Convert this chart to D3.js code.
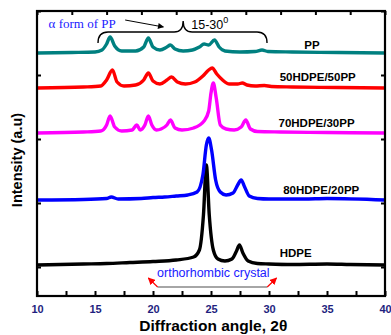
<!DOCTYPE html>
<html>
<head>
<meta charset="utf-8">
<script src="https://cdn.jsdelivr.net/npm/d3@7"></script>
<style>
  body { margin: 0; background: #fff; }
  svg { display: block; font-family: Arial, "Liberation Sans", sans-serif; }
</style>
</head>
<body>
<svg width="391" height="335"></svg>
<script>
// Series names, colours and vertical offsets (stacked patterns)
const names = ['HDPE', '80HDPE/20PP', '70HDPE/30PP', '50HDPE/50PP', 'PP'];
const colors = ['#000000', '#0000ff', '#ff00ff', '#ff0000', '#008080'];
const offsets = [31, 96, 163, 208, 243];

// [2theta, intensity above own baseline]
const hdpe = [[10, 0], [12, 0.5], [14, 1], [16, 1.5], [18, 2.5], [20, 3.5], [22, 5], [23.5, 8], [24, 15],
  [24.35, 50], [24.6, 100], [24.85, 50], [25.2, 15], [25.6, 6], [26.2, 4], [26.8, 6], [27.2, 14],
  [27.45, 20], [27.75, 12], [28.2, 4], [29, 1.5], [30, 1], [32, 0.5], [35, 1], [37, 0.5], [40, 0]];
const hdpe80 = [[10, 0], [14, 0.5], [16, 1.5], [16.4, 3], [17, 1], [19, 1.5], [20, 2.5], [21, 3], [22, 4],
  [23, 5], [23.8, 8], [24.3, 25], [24.6, 55], [24.8, 62], [25.05, 50], [25.4, 20], [25.8, 8], [26.3, 5],
  [26.9, 7], [27.3, 15], [27.6, 20], [27.9, 13], [28.3, 4], [29, 1.5], [30, 1], [33, 1], [35, 1.5], [40, 0]];
const hdpe70 = [[10, 0], [14, 1], [15.5, 2], [16, 8], [16.3, 17], [16.7, 6], [17.3, 2], [18.2, 3], [18.6, 8],
  [18.9, 3], [19.3, 8], [19.6, 17], [19.9, 8], [20.3, 3], [20.7, 4], [21.2, 8], [21.5, 13], [21.9, 5],
  [22.5, 3], [23.5, 5], [24.4, 12], [24.8, 22], [25, 40], [25.2, 50], [25.45, 35], [25.8, 8], [26.3, 4],
  [27, 3], [27.6, 6], [28, 13], [28.4, 4], [29, 1.5], [31, 1], [35, 0.5], [40, 0]];
const hdpe50 = [[10, 0], [14, 1], [15.5, 2], [16, 8], [16.5, 18], [16.9, 6], [17.5, 2], [18.5, 3], [19.2, 8],
  [19.6, 15], [20, 7], [20.6, 4], [21.2, 8], [21.6, 11], [22.1, 6], [22.8, 4], [23.6, 6], [24.3, 12],
  [24.8, 18], [25.1, 20], [25.5, 14], [26, 8], [26.6, 4], [27.3, 4], [27.7, 5], [28.1, 3], [28.8, 2],
  [29.6, 2.5], [30.2, 1.5], [32, 1], [36, 0.5], [40, 0]];
const pp = [[10, 0], [13, 0.5], [15, 1], [15.6, 3], [16, 9], [16.3, 16], [16.7, 7], [17.3, 2], [18.5, 2],
  [19.2, 6], [19.6, 15], [20, 6], [20.6, 3], [21.2, 6], [21.5, 8], [21.9, 4], [22.6, 2], [23.4, 3],
  [24, 6], [24.4, 9], [24.8, 8], [25.3, 13], [25.7, 6], [26.2, 2], [27.5, 1], [28.8, 1.5], [29.4, 3],
  [29.9, 1.5], [32, 1], [36, 0.5], [40, 0]];
const patterns = [hdpe, hdpe80, hdpe70, hdpe50, pp];

const xMinor = d3.range(10, 40.1, 2.5);
const xTopTicks = d3.range(10, 40.1, 3);
const yTicks = [29, 93, 157, 221, 285];

// Label placement (2theta, intensity)
const labelPos = [[32.3, 39], [34.5, 102], [34.1, 169], [34.2, 215], [33.7, 247]];

const svg = d3.select('svg');
const margin = {top: 11, right: 6, bottom: 39, left: 37};
const width = +svg.attr('width') - margin.left - margin.right;
const height = +svg.attr('height') - margin.top - margin.bottom;
const g = svg.append('g').attr('transform', `translate(${margin.left},${margin.top})`);

const x = d3.scaleLinear().domain([10, 40]).range([0, width]);
const y = d3.scaleLinear().domain([0, 285]).range([height, 0]);

const line = d3.line()
  .x(d => x(d[0]))
  .y(d => y(d[1]))
  .curve(d3.curveMonotoneX);

// Patterns
patterns.forEach((p, i) => {
  g.append('path')
    .attr('d', line(p.map(d => [d[0], d[1] + offsets[i]])))
    .attr('fill', 'none')
    .attr('stroke', colors[i])
    .attr('stroke-width', 3.4)
    .attr('stroke-linejoin', 'round');
});

// Pattern labels
names.forEach((n, i) => {
  g.append('text')
    .attr('x', x(labelPos[i][0]))
    .attr('y', y(labelPos[i][1]))
    .attr('text-anchor', 'middle')
    .attr('font-size', 11.5)
    .attr('font-weight', 'bold')
    .text(n);
});

// Axes
const tickColor = '#1f1f80';
const axBottom = g.append('g').attr('transform', `translate(0,${height})`)
  .call(d3.axisBottom(x).tickValues(xMinor).tickSize(-5).tickPadding(9)
    .tickFormat(d => (d % 5 === 0 ? d : '')));
const axTop = g.append('g')
  .call(d3.axisTop(x).tickValues(xTopTicks).tickSize(-4).tickFormat(''));
const axLeft = g.append('g')
  .call(d3.axisLeft(y).tickValues(yTicks).tickSize(-4).tickFormat(''));
const axRight = g.append('g').attr('transform', `translate(${width},0)`)
  .call(d3.axisRight(y).tickValues(yTicks).tickSize(-4).tickFormat(''));

[axBottom, axTop, axLeft, axRight].forEach(a => {
  a.select('.domain').remove();
  a.selectAll('.tick line').attr('stroke', '#000').attr('stroke-width', 2);
});
axBottom.selectAll('.tick text')
  .attr('fill', tickColor)
  .attr('font-size', 11)
  .attr('font-weight', 'bold')
  .attr('font-family', 'Arial, "Liberation Sans", sans-serif');

g.append('rect')
  .attr('width', width)
  .attr('height', height)
  .attr('fill', 'none')
  .attr('stroke', '#000')
  .attr('stroke-width', 2.2);

// Axis titles
svg.append('text')
  .attr('x', margin.left + x(25.2))
  .attr('y', 331)
  .attr('text-anchor', 'middle')
  .attr('font-size', 15.5)
  .attr('font-weight', 'bold')
  .text('Diffraction angle, 2θ');

svg.append('text')
  .attr('transform', `translate(22,${160}) rotate(-90)`)
  .attr('text-anchor', 'middle')
  .attr('font-size', 14.5)
  .attr('font-weight', 'bold')
  .text('Intensity (a.u)');

// Annotations: alpha form of PP, brace and arrow
g.append('text')
  .attr('x', x(11))
  .attr('y', y(268))
  .attr('fill', '#2020ff')
  .attr('font-family', '"Liberation Serif", "Times New Roman", serif')
  .attr('font-size', 13)
  .text('α  form of PP');

const defs = svg.append('defs');
defs.append('marker')
  .attr('id', 'ah')
  .attr('viewBox', '0 0 10 10')
  .attr('refX', 9).attr('refY', 5)
  .attr('markerWidth', 7).attr('markerHeight', 6)
  .attr('orient', 'auto')
  .append('path').attr('d', 'M0,0L10,5L0,10z').attr('fill', '#000');
defs.append('marker')
  .attr('id', 'ahr')
  .attr('viewBox', '0 0 10 10')
  .attr('refX', 9).attr('refY', 5)
  .attr('markerWidth', 6).attr('markerHeight', 6)
  .attr('orient', 'auto')
  .append('path').attr('d', 'M0,0L10,5L0,10z').attr('fill', '#ff0000');

g.append('line')
  .attr('x1', x(17.6)).attr('y1', y(276))
  .attr('x2', x(20.9)).attr('y2', y(269))
  .attr('stroke', '#000').attr('stroke-width', 1)
  .attr('marker-end', 'url(#ah)');

// curly brace from 15.26 to 29.83, cusp at 22.6
const bx0 = x(15.26), bx1 = x(29.83), bc = x(22.6);
const by = y(264), bEnd = y(253), bTip = y(275);
g.append('path')
  .attr('d', `M${bx0},${bEnd} Q${bx0},${by} ${bx0 + 10},${by} L${bc - 9},${by} Q${bc},${by} ${bc},${bTip}` +
    ` Q${bc},${by} ${bc + 9},${by} L${bx1 - 10},${by} Q${bx1},${by} ${bx1},${bEnd}`)
  .attr('fill', 'none')
  .attr('stroke', '#000')
  .attr('stroke-width', 1.4);

const rng = g.append('text')
  .attr('x', x(23.3))
  .attr('y', y(267))
  .attr('font-size', 12.5)
  .text('15-30');
rng.append('tspan').attr('dy', -6).attr('font-size', 9).text('0');

// orthorhombic crystal annotation
g.append('text')
  .attr('x', x(20.35))
  .attr('y', y(19))
  .attr('fill', '#2020ff')
  .attr('font-size', 12.5)
  .text('orthorhombic crystal');

g.append('line')
  .attr('x1', x(20.4)).attr('y1', y(9))
  .attr('x2', x(29.85)).attr('y2', y(9))
  .attr('stroke', '#888').attr('stroke-width', 1.5);
g.append('line')
  .attr('x1', x(20.4)).attr('y1', y(9))
  .attr('x2', x(19.6)).attr('y2', y(18))
  .attr('stroke', '#ff0000').attr('stroke-width', 1.2)
  .attr('marker-end', 'url(#ahr)');
g.append('line')
  .attr('x1', x(29.85)).attr('y1', y(9))
  .attr('x2', x(30.65)).attr('y2', y(18))
  .attr('stroke', '#ff0000').attr('stroke-width', 1.2)
  .attr('marker-end', 'url(#ahr)');
</script>
</body>
</html>
